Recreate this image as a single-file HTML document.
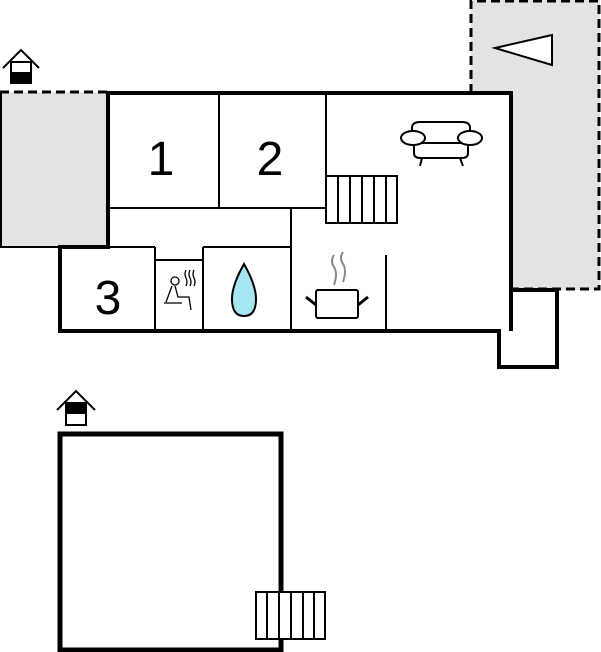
<!DOCTYPE html>
<html><head><style>body{margin:0;background:#fff}svg{display:block}</style></head><body>
<svg width="601" height="652" viewBox="0 0 601 652" xmlns="http://www.w3.org/2000/svg">
<rect x="0" y="92" width="108" height="155" fill="#e3e3e3"/>
<line x1="0" y1="92" x2="108" y2="92" stroke="#000" stroke-width="3" stroke-dasharray="9,5"/>
<line x1="1" y1="92" x2="1" y2="247" stroke="#000" stroke-width="2"/>
<line x1="0" y1="247" x2="108" y2="247" stroke="#000" stroke-width="2"/>
<rect x="471" y="0" width="129" height="290" fill="#e3e3e3"/>
<path d="M471,93 V1 H599 V289 H511" fill="none" stroke="#000" stroke-width="3" stroke-dasharray="9,5"/>
<polygon points="495,48 552,35 552,65" fill="#fff" stroke="#000" stroke-width="2"/>
<rect x="108" y="93" width="403" height="238" fill="#fff"/>
<rect x="60" y="247" width="50" height="84" fill="#fff"/>
<rect x="497" y="290" width="60" height="77" fill="#fff"/>
<g fill="none" stroke="#000" stroke-width="2">
<line x1="219" y1="93" x2="219" y2="208"/>
<line x1="326" y1="93" x2="326" y2="208"/>
<line x1="108" y1="208" x2="326" y2="208"/>
<line x1="291" y1="208" x2="291" y2="331"/>
<line x1="106" y1="247" x2="155" y2="247"/>
<line x1="155" y1="247" x2="155" y2="331"/>
<line x1="155" y1="260" x2="203" y2="260"/>
<line x1="203" y1="247" x2="203" y2="331"/>
<line x1="203" y1="247" x2="291" y2="247"/>
<line x1="386" y1="255" x2="386" y2="331"/>
<rect x="326" y="176" width="71" height="47" fill="#fff"/>
<line x1="338" y1="176" x2="338" y2="223"/><line x1="350" y1="176" x2="350" y2="223"/><line x1="362" y1="176" x2="362" y2="223"/><line x1="374" y1="176" x2="374" y2="223"/><line x1="386" y1="176" x2="386" y2="223"/>
</g>
<path d="M108,249 V93 H511 V331" fill="none" stroke="#000" stroke-width="4"/>
<path d="M110,247 H60 V331 H499 V367 H557 V290 H511" fill="none" stroke="#000" stroke-width="4"/>
<g font-family="Liberation Sans, sans-serif" font-size="48" text-anchor="middle">
<text x="161" y="175">1</text><text x="270" y="175">2</text><text x="108" y="314">3</text>
</g>
<g fill="#fff" stroke="#000" stroke-width="2">
<path d="M412,142 V128 Q412,122 420,122 H462 Q470,122 470,128 V142"/>
<path d="M414,143 V153 Q414,158 420,158 H462 Q468,158 468,153 V143 Z"/>
<ellipse cx="413" cy="138" rx="12" ry="7"/><ellipse cx="470" cy="138" rx="12" ry="7"/>
<line x1="422" y1="158" x2="420" y2="166"/><line x1="460" y1="158" x2="463" y2="166"/>
</g>
<g fill="none" stroke="#000" stroke-width="2">
<rect x="316" y="290" width="42" height="28" rx="2" fill="#fff"/>
<line x1="306" y1="297" x2="316" y2="305" stroke-width="3"/><line x1="358" y1="305" x2="368" y2="297" stroke-width="3"/>
</g>
<g fill="none" stroke="#888" stroke-width="2">
<path d="M334,255 q-4,6 0,12 q4,6 0,18"/><path d="M343,252 q-4,6 0,12 q4,6 0,18"/>
</g>
<path d="M244,264 Q232,285 232,299 Q232,316 244,316 Q256,316 256,299 Q256,285 244,264 Z" fill="#a6e6f0" stroke="#000" stroke-width="2"/>
<g fill="none" stroke="#000" stroke-width="1.3">
<circle cx="175" cy="281" r="4"/>
<path d="M172,286 L166,302 M175,286 L178,297 H189 L191,310 M164,303 H182"/>
<path d="M186,270 q-2,4 0,8 q2,4 0,8 M190,270 q-2,4 0,8 q2,4 0,8 M194,270 q-2,4 0,8 q2,4 0,8"/>
</g>
<g fill="none" stroke="#000" stroke-width="2">
<path d="M3,68 L21,50 L39,68"/>
<rect x="11" y="62" width="20" height="21" fill="#fff"/>
<rect x="11" y="73" width="20" height="10" fill="#000"/>
<path d="M57,410 L76,391 L95,410"/>
<rect x="66" y="403" width="20" height="22" fill="#fff"/>
<rect x="66" y="403" width="20" height="10" fill="#000"/>
</g>
<rect x="60" y="434" width="221" height="216" fill="none" stroke="#000" stroke-width="5"/>
<rect x="256" y="592" width="69" height="47" fill="#fff" stroke="#000" stroke-width="2"/>
<g stroke="#000" stroke-width="2">
<line x1="267" y1="592" x2="267" y2="639"/><line x1="279" y1="592" x2="279" y2="639"/><line x1="291" y1="592" x2="291" y2="639"/><line x1="303" y1="592" x2="303" y2="639"/><line x1="314" y1="592" x2="314" y2="639"/>
</g>
</svg>
</body></html>
